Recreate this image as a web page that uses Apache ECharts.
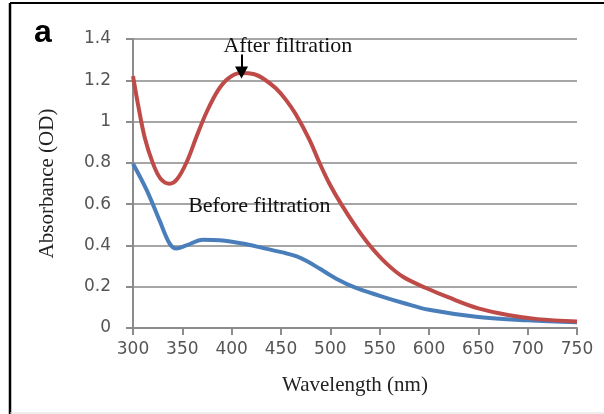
<!DOCTYPE html>
<html>
<head>
<meta charset="utf-8">
<script src="https://cdn.jsdelivr.net/npm/echarts@6/dist/echarts.min.js"></script>
<style>
  html, body { margin: 0; padding: 0; background: #fff; }
  #chart { width: 604px; height: 414px; }
</style>
</head>
<body>
<div id="chart"></div>
<script>
// after filtration (red) : wavelength (nm) / absorbance
var afterWavelengths = [300, 305, 312, 320, 328, 337, 345, 355, 365, 375, 386, 396, 409, 423, 433, 445,
                        455, 465, 479, 489, 499, 511, 526, 540, 557, 574, 597, 620, 650, 680, 710, 750];
var afterValues = [1.22, 1.085, 0.92, 0.80, 0.723, 0.699, 0.723, 0.81, 0.935, 1.05, 1.15, 1.207, 1.235, 1.229, 1.205, 1.16,
                   1.105, 1.035, 0.91, 0.80, 0.70, 0.60, 0.49, 0.40, 0.312, 0.247, 0.194, 0.148, 0.095, 0.063, 0.043, 0.032];
// before filtration (blue)
var beforeWavelengths = [300, 314, 327, 337, 344, 354, 371, 388, 411, 432, 455, 466, 477, 489, 506, 526,
                         550, 575, 600, 650, 700, 750];
var beforeValues = [0.796, 0.667, 0.52, 0.41, 0.385, 0.40, 0.428, 0.425, 0.409, 0.387, 0.362, 0.347, 0.322, 0.288, 0.239, 0.194,
                    0.156, 0.12, 0.088, 0.053, 0.037, 0.028];

var afterLabel = { text: 'After filtration', at: [457, 1.364] };
var beforeLabel = { text: 'Before filtration', at: [428, 0.589] };
var arrowFrom = [410, 1.325];
var arrowTo = [410, 1.238];

function pairs(xs, ys) {
  return xs.map(function (x, i) { return [x, ys[i]]; });
}

var serif = '"Liberation Serif", "DejaVu Serif", serif';
var tickFont = '"DejaVu Sans", sans-serif';

var chart = echarts.init(document.getElementById('chart'));
chart.setOption({
  animation: false,
  backgroundColor: '#fff',
  grid: { left: 133, right: 27, top: 39, bottom: 86 },
  graphic: [
    { type: 'line', shape: { x1: 10, y1: 3, x2: 604, y2: 3 }, style: { stroke: '#000', lineWidth: 2 } },
    { type: 'line', shape: { x1: 10, y1: 3, x2: 10, y2: 414 }, style: { stroke: '#000', lineWidth: 2.5 } },
    { type: 'line', shape: { x1: 10, y1: 413, x2: 604, y2: 413 }, style: { stroke: '#ddd', lineWidth: 1 } },
    { type: 'text', left: 34, top: 17, style: { text: 'a', font: 'bold 32px "Liberation Sans", Arial, sans-serif', fill: '#000' } }
  ],
  xAxis: {
    type: 'value',
    min: 300, max: 750, interval: 50,
    name: 'Wavelength (nm)',
    nameLocation: 'middle',
    nameGap: 47,
    nameTextStyle: { fontFamily: serif, fontSize: 21, color: '#222' },
    axisLine: { lineStyle: { color: '#8c8c8c', width: 2 } },
    axisTick: { show: true, inside: false, length: 7, lineStyle: { color: '#8c8c8c', width: 2 } },
    axisLabel: { fontFamily: tickFont, fontSize: 17, color: '#555', margin: 13 },
    splitLine: { show: false }
  },
  yAxis: {
    type: 'value',
    min: 0, max: 1.4, interval: 0.2,
    name: 'Absorbance (OD)',
    nameLocation: 'middle',
    nameGap: 75,
    nameTextStyle: { fontFamily: serif, fontSize: 21, color: '#222' },
    axisLine: { show: true, lineStyle: { color: '#8c8c8c', width: 2 } },
    axisTick: { show: true, inside: false, length: 7, lineStyle: { color: '#8c8c8c', width: 2 } },
    axisLabel: { fontFamily: tickFont, fontSize: 17, color: '#555', margin: 22 },
    splitLine: { show: true, lineStyle: { color: '#a6a6a6', width: 2 } }
  },
  series: [
    {
      name: 'Before filtration',
      type: 'line',
      smooth: 0.35,
      symbol: 'none',
      data: pairs(beforeWavelengths, beforeValues),
      lineStyle: { color: '#4a7ebb', width: 4 },
      markPoint: {
        symbol: 'circle', symbolSize: 0,
        label: { show: true, position: 'inside', formatter: beforeLabel.text, fontFamily: serif, fontSize: 22, color: '#111' },
        data: [{ coord: beforeLabel.at }]
      }
    },
    {
      name: 'After filtration',
      type: 'line',
      smooth: 0.35,
      symbol: 'none',
      data: pairs(afterWavelengths, afterValues),
      lineStyle: { color: '#be4b48', width: 4 },
      markPoint: {
        symbol: 'circle', symbolSize: 0,
        label: { show: true, position: 'inside', formatter: afterLabel.text, fontFamily: serif, fontSize: 22, color: '#111' },
        data: [{ coord: afterLabel.at }]
      },
      markLine: {
        silent: true,
        symbol: ['none', 'triangle'],
        symbolSize: [13, 12],
        symbolRotate: 180,
        label: { show: false },
        lineStyle: { color: '#000', width: 2, type: 'solid' },
        data: [[{ coord: arrowFrom }, { coord: arrowTo }]]
      }
    }
  ]
});
</script>
</body>
</html>
